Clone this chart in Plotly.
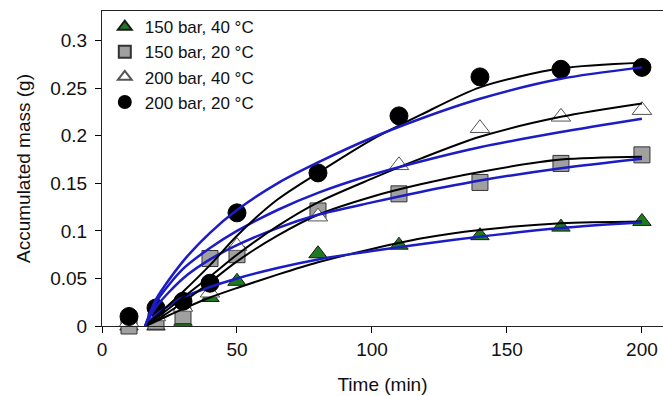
import plotly.graph_objects as go

# ---- measured data (Time in min, accumulated mass in g) ----
time_pts = [10, 20, 30, 40, 50, 80, 110, 140, 170, 200]
m_150_40 = [0.0, 0.0, 0.005, 0.03, 0.047, 0.076, 0.085, 0.095, 0.104, 0.110]
m_150_20 = [0.0, 0.005, 0.011, 0.071, 0.075, 0.121, 0.139, 0.151, 0.171, 0.180]
m_200_40 = [0.004, 0.01, 0.02, 0.035, 0.084, 0.115, 0.169, 0.208, 0.220, 0.227]
m_200_20 = [0.010, 0.019, 0.026, 0.045, 0.119, 0.161, 0.221, 0.262, 0.270, 0.272]

# ---- model curves ----
t_fit = [16, 20, 30, 40, 50, 65, 80, 100, 118, 140, 170, 200]
black_150_40 = [0.0, 0.005, 0.018, 0.030, 0.040, 0.054, 0.067, 0.081, 0.092, 0.101, 0.108, 0.110]
blue_150_40 = [0.0, 0.012, 0.030, 0.041, 0.050, 0.061, 0.070, 0.079, 0.086, 0.094, 0.103, 0.109]
black_150_20 = [0.0, 0.006, 0.025, 0.046, 0.068, 0.095, 0.117, 0.136, 0.149, 0.162, 0.175, 0.178]
blue_150_20 = [0.0, 0.020, 0.050, 0.070, 0.085, 0.103, 0.117, 0.130, 0.141, 0.153, 0.166, 0.176]
black_200_40 = [0.0, 0.008, 0.030, 0.052, 0.075, 0.105, 0.130, 0.155, 0.176, 0.199, 0.220, 0.234]
blue_200_40 = [0.0, 0.025, 0.060, 0.082, 0.100, 0.122, 0.140, 0.159, 0.173, 0.188, 0.204, 0.218]
black_200_20 = [0.0, 0.010, 0.036, 0.064, 0.095, 0.133, 0.161, 0.196, 0.222, 0.251, 0.271, 0.277]
blue_200_20 = [0.0, 0.028, 0.068, 0.098, 0.122, 0.150, 0.172, 0.198, 0.218, 0.239, 0.260, 0.272]

x_ticks = [0, 50, 100, 150, 200]
y_ticks = [0, 0.05, 0.1, 0.15, 0.2, 0.25, 0.3]
y_tick_text = ["0", "0.05", "0.1", "0.15", "0.2", "0.25", "0.3"]

FONT = "Arial, Liberation Sans, sans-serif"
BLUE = "#1c1cc4"

fig = go.Figure()

series = [
    ("150 bar, 40 °C", m_150_40, dict(symbol="triangle-up", size=16, color="#1f7a1f",
                                      line=dict(color="#1a1a1a", width=1))),
    ("150 bar, 20 °C", m_150_20, dict(symbol="square", size=16, color="#a0a0a0",
                                      line=dict(color="#333333", width=1))),
    ("200 bar, 40 °C", m_200_40, dict(symbol="triangle-up", size=17, color="white",
                                      line=dict(color="#555555", width=1))),
    ("200 bar, 20 °C", m_200_20, dict(symbol="circle", size=18, color="black",
                                      line=dict(color="black", width=1))),
]
for name, vals, mk in series:
    fig.add_trace(go.Scatter(x=time_pts, y=vals, mode="markers", name=name,
                             marker=mk, cliponaxis=False))

curves = [
    (black_150_40, "black", 2), (blue_150_40, BLUE, 2.5),
    (black_150_20, "black", 2), (blue_150_20, BLUE, 2.5),
    (black_200_40, "black", 2), (blue_200_40, BLUE, 2.5),
    (black_200_20, "black", 2), (blue_200_20, BLUE, 2.5),
]
for vals, col, w in curves:
    fig.add_trace(go.Scatter(x=t_fit, y=vals, mode="lines", showlegend=False,
                             line=dict(color=col, width=w, shape="spline", smoothing=0.8),
                             hoverinfo="skip"))

fig.update_layout(
    width=663, height=396,
    margin=dict(l=102, r=0, t=11, b=70),
    paper_bgcolor="white", plot_bgcolor="white",
    font=dict(family=FONT, size=19, color="#111111"),
    showlegend=True,
    legend=dict(x=0.005, y=1.006, xanchor="left", yanchor="top",
                bgcolor="rgba(0,0,0,0)", borderwidth=0,
                font=dict(family=FONT, size=17, color="#111111"),
                itemsizing="constant", tracegroupgap=0),
)
fig.update_xaxes(
    range=[0, 207.8], tickvals=x_ticks, ticks="outside", ticklen=6, tickwidth=1,
    tickcolor="black", showline=True, linecolor="#222222", linewidth=1, mirror=True,
    showgrid=False, zeroline=False,
    title=dict(text="Time (min)", font=dict(size=19), standoff=18),
)
fig.update_yaxes(
    range=[0, 0.3313], tickvals=y_ticks, ticktext=y_tick_text, ticks="outside",
    ticklen=6, tickwidth=1, tickcolor="black", showline=True, linecolor="#222222",
    linewidth=1, showgrid=False, zeroline=False, ticklabelstandoff=4,
    title=dict(text="Accumulated mass (g)", font=dict(size=19), standoff=14),
)

fig.write_html("out.html")
